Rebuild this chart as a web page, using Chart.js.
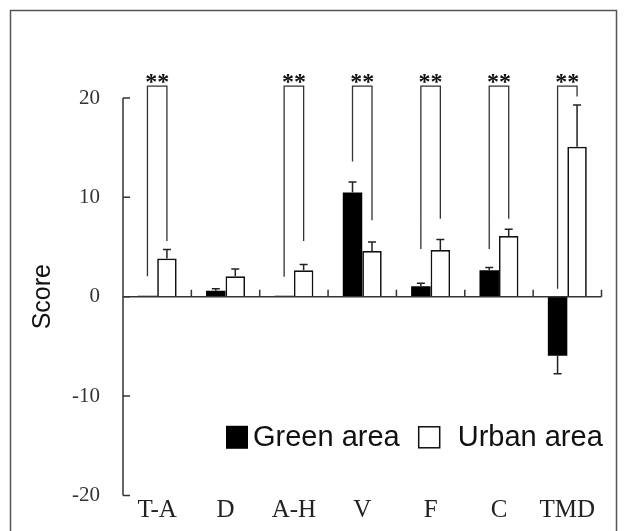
<!DOCTYPE html>
<html>
<head>
<meta charset="utf-8">
<script src="https://cdn.jsdelivr.net/npm/chart.js@4"></script>
<style>
  html, body { margin: 0; padding: 0; background: #fff; }
  #wrap { width: 625px; height: 531px; position: relative; }
</style>
</head>
<body>
<div id="wrap"><canvas id="c" width="625" height="531"></canvas></div>
<script>
// POMS subscale scores: mean and SE for each area
const categories = ['T-A', 'D', 'A-H', 'V', 'F', 'C', 'TMD'];
const greenMean = [0.1, 0.6, 0.1, 10.5, 1.05, 2.65, -5.95];
const greenErr = [0, 0.2, 0, 1.05, 0.3, 0.3, 1.8];
const urbanMean = [3.85, 2.05, 2.65, 4.6, 4.7, 6.1, 15.1];
const urbanErr = [0.9, 0.75, 0.6, 0.9, 1.05, 0.7, 4.2];
const yTicks = [-20, -10, 0, 10, 20];
const seriesNames = ['Green area', 'Urban area'];

// significance brackets: marker text, leg start values (score units), bracket top
const sigMarks = ['**', '', '**', '**', '**', '**', '**'];
const sigLeftFrom = [2.05, null, 2.0, 13.6, 4.8, 4.8, 0.8];
const sigRightFrom = [5.6, null, 5.6, 7.7, 7.85, 7.85, 20.15];
const sigTop = 21.2;

const errs = [greenErr, urbanErr];
const INK = '#222';

const overlay = {
  id: 'overlay',
  beforeDraw(chart) {
    const ctx = chart.ctx;
    ctx.save();
    ctx.fillStyle = '#fff';
    ctx.fillRect(0, 0, chart.width, chart.height);
    ctx.restore();
  },
  afterDatasetsDraw(chart) {
    const ctx = chart.ctx;
    const xs = chart.scales.x, ys = chart.scales.y;
    const area = chart.chartArea;
    ctx.save();

    // error bars (one-sided, away from zero)
    ctx.strokeStyle = INK;
    ctx.lineWidth = 1.5;
    chart.data.datasets.forEach((ds, d) => {
      const meta = chart.getDatasetMeta(d);
      meta.data.forEach((bar, i) => {
        const e = errs[d][i];
        if (!e) return;
        const v = ds.data[i];
        const end = v >= 0 ? v + e : v - e;
        const y0 = ys.getPixelForValue(v), y1 = ys.getPixelForValue(end);
        ctx.beginPath();
        ctx.moveTo(bar.x, y0);
        ctx.lineTo(bar.x, y1);
        ctx.moveTo(bar.x - 4, y1);
        ctx.lineTo(bar.x + 4, y1);
        ctx.stroke();
      });
    });

    // y axis line with inward ticks
    ctx.strokeStyle = '#333';
    ctx.lineWidth = 1.5;
    const ax = area.left;
    ctx.beginPath();
    ctx.moveTo(ax, ys.getPixelForValue(yTicks[yTicks.length - 1]));
    ctx.lineTo(ax, ys.getPixelForValue(yTicks[0]));
    yTicks.forEach(v => {
      const py = ys.getPixelForValue(v);
      ctx.moveTo(ax, py);
      ctx.lineTo(ax + 7, py);
    });
    ctx.stroke();

    // x axis line at zero with upward ticks between categories
    const zy = ys.getPixelForValue(0);
    ctx.beginPath();
    ctx.moveTo(area.left, zy);
    ctx.lineTo(area.right, zy);
    for (let i = 0; i < categories.length; i++) {
      const bx = i < categories.length - 1
        ? (xs.getPixelForValue(i) + xs.getPixelForValue(i + 1)) / 2
        : area.right;
      ctx.moveTo(bx, zy);
      ctx.lineTo(bx, zy - 7);
    }
    ctx.stroke();

    // significance brackets
    const m0 = chart.getDatasetMeta(0), m1 = chart.getDatasetMeta(1);
    const topY = ys.getPixelForValue(sigTop);
    ctx.strokeStyle = '#333';
    ctx.lineWidth = 1.3;
    ctx.fillStyle = '#111';
    ctx.font = 'bold 24px "Liberation Serif"';
    ctx.textAlign = 'center';
    ctx.textBaseline = 'alphabetic';
    categories.forEach((c, i) => {
      if (!sigMarks[i]) return;
      const lx = m0.data[i].x, rx = m1.data[i].x;
      ctx.beginPath();
      ctx.moveTo(lx, ys.getPixelForValue(sigLeftFrom[i]));
      ctx.lineTo(lx, topY);
      ctx.lineTo(rx, topY);
      ctx.lineTo(rx, ys.getPixelForValue(sigRightFrom[i]));
      ctx.stroke();
      ctx.fillText(sigMarks[i], (lx + rx) / 2, topY + 3);
    });

    // legend inside the plot area
    const ly = ys.getPixelForValue(-14.1);
    ctx.font = '29px "Liberation Sans"';
    ctx.textAlign = 'left';
    ctx.textBaseline = 'middle';
    let lx = 226;
    ctx.fillStyle = '#000';
    ctx.fillRect(lx, ly - 11, 22, 23);
    lx += 27;
    ctx.fillStyle = '#111';
    ctx.fillText(seriesNames[0], lx, ly + 1);
    lx += ctx.measureText(seriesNames[0]).width + 19;
    ctx.fillStyle = '#fff';
    ctx.fillRect(lx, ly - 10, 21, 21);
    ctx.strokeStyle = '#111';
    ctx.lineWidth = 1.5;
    ctx.strokeRect(lx, ly - 10, 21, 21);
    lx += 39;
    ctx.fillStyle = '#111';
    ctx.fillText(seriesNames[1], lx, ly + 1);

    // outer frame
    ctx.strokeStyle = '#555';
    ctx.lineWidth = 1.5;
    ctx.strokeRect(10.5, 10.5, 606, 560);
    ctx.restore();
  }
};

new Chart(document.getElementById('c'), {
  type: 'bar',
  data: {
    labels: categories,
    datasets: [
      {
        label: seriesNames[0],
        data: greenMean,
        backgroundColor: '#000',
        borderColor: '#000',
        borderWidth: 0,
        categoryPercentage: 0.57,
        barPercentage: 1
      },
      {
        label: seriesNames[1],
        data: urbanMean,
        backgroundColor: '#fff',
        borderColor: '#111',
        borderWidth: 1.7,
        categoryPercentage: 0.57,
        barPercentage: 1
      }
    ]
  },
  options: {
    responsive: false,
    animation: false,
    devicePixelRatio: 1,
    layout: { padding: { left: 24, right: 23.5, top: 98, bottom: 0 } },
    plugins: { legend: { display: false }, tooltip: { enabled: false } },
    scales: {
      x: {
        grid: { display: false, drawTicks: false },
        border: { display: false },
        ticks: { font: { family: 'Liberation Serif', size: 25 }, color: '#222', padding: 0 },
        afterFit(s) { s.height = 34; }
      },
      y: {
        min: -20,
        max: 20,
        afterBuildTicks(s) { s.ticks = yTicks.map(v => ({ value: v })); },
        grid: { display: false, drawTicks: false },
        border: { display: false },
        ticks: { font: { family: 'Liberation Serif', size: 21 }, color: '#333', padding: 23 },
        title: {
          display: true,
          text: 'Score',
          font: { family: 'Liberation Sans', size: 25 },
          color: '#111',
          padding: { top: 4, bottom: 4 }
        },
        afterFit(s) { s.width = 99; }
      }
    }
  },
  plugins: [overlay]
});
</script>
</body>
</html>
